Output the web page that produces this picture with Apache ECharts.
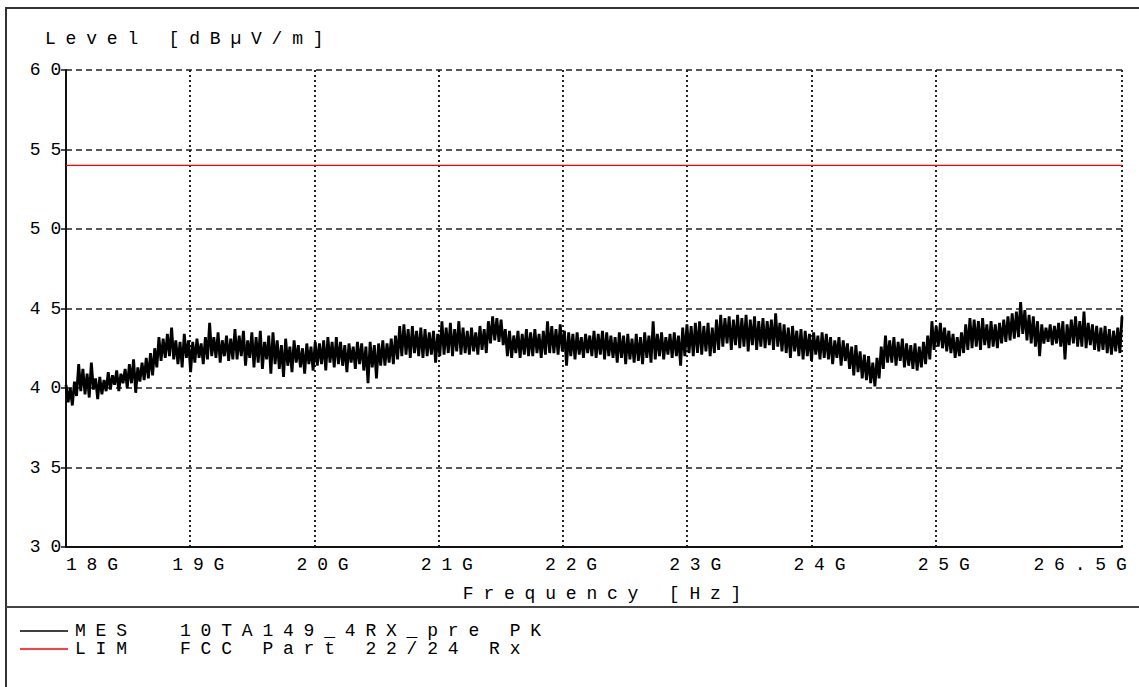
<!DOCTYPE html>
<html>
<head>
<meta charset="utf-8">
<style>
    html, body { margin: 0; padding: 0; background: #fff; }
    #chart { width: 1139px; height: 687px; }
    /* wide spaced plotter lettering */
    #chart text { letter-spacing: 9.8px; }
</style>
<script src="https://cdn.jsdelivr.net/npm/echarts@6/dist/echarts.min.js"></script>
</head>
<body>
<div id="chart"></div>
<script>
// sweep 18 GHz .. 26.5 GHz, 501 points
var freqStart = 18;
var freqStep = 0.017;
var freqTicks = [18, 19, 20, 21, 22, 23, 24, 25, 26.5];

var seriesNames = ['MES', 'LIM'];
var seriesDesc = ['10TA149_4RX_pre PK', 'FCC Part 22/24 Rx'];

// MES trace (dBµV/m)
var mesLevel = [
    40.2, 39.1, 40.0, 38.9, 40.4, 39.5, 41.5, 39.8, 41.2, 39.6,
    40.9, 39.4, 41.6, 39.9, 40.6, 39.3, 40.7, 39.6, 40.5, 39.8,
    41.0, 39.9, 40.8, 40.2, 41.1, 39.8, 40.9, 40.3, 41.2, 40.0,
    41.5, 40.3, 41.8, 39.7, 41.3, 40.4, 41.6, 40.5, 41.9, 40.6,
    42.2, 40.8, 42.5, 41.3, 43.2, 41.7, 43.1, 41.9, 43.4, 42.0,
    43.8, 41.8, 43.0, 41.5, 42.9, 41.3, 43.4, 41.9, 43.0, 41.0,
    42.9, 41.6, 43.1, 41.9, 42.8, 41.5, 43.2, 41.8, 44.1, 42.0,
    43.2, 41.9, 43.5, 41.6, 43.0, 42.0, 43.3, 41.7, 43.1, 41.8,
    43.7, 41.8, 43.3, 42.0, 43.6, 41.4, 43.0, 41.9, 43.5, 41.3,
    43.2, 41.6, 43.6, 41.2, 42.9, 41.8, 43.3, 40.9, 43.5, 41.5,
    43.0, 41.2, 42.7, 40.7, 43.1, 41.4, 42.6, 41.0, 43.0, 41.6,
    42.7, 41.3, 42.5, 40.9, 42.8, 41.5, 42.6, 41.1, 42.9, 41.4,
    42.8, 41.5, 43.0, 41.1, 43.2, 41.6, 42.9, 41.3, 43.2, 41.5,
    42.9, 41.4, 42.7, 41.0, 42.8, 41.6, 42.6, 41.2, 42.9, 41.5,
    42.8, 41.1, 42.6, 40.3, 42.9, 41.3, 42.7, 40.6, 42.8, 41.4,
    43.0, 41.4, 42.8, 41.6, 43.1, 41.5, 43.3, 41.8, 43.9, 42.0,
    44.0, 42.1, 43.7, 41.9, 43.9, 42.2, 43.6, 42.0, 43.8, 41.9,
    43.7, 42.0, 43.5, 42.1, 43.6, 41.6, 43.4, 42.0, 44.2, 42.1,
    43.8, 42.2, 44.1, 42.0, 43.7, 42.3, 44.2, 42.1, 43.8, 42.2,
    43.6, 42.1, 43.8, 42.3, 43.5, 42.1, 43.9, 42.4, 43.7, 42.2,
    44.2, 42.8, 44.5, 43.0, 44.4, 42.9, 44.3, 42.7, 43.7, 42.0,
    43.6, 41.9, 43.3, 42.2, 43.6, 41.9, 43.4, 42.1, 43.7, 42.0,
    43.5, 42.0, 43.7, 42.2, 43.4, 41.9, 43.6, 42.1, 44.2, 42.2,
    43.9, 42.2, 43.7, 42.1, 44.0, 42.3, 43.6, 41.4, 43.5, 42.0,
    43.4, 41.8, 43.5, 42.1, 43.2, 41.9, 43.4, 42.2, 43.3, 42.0,
    43.6, 41.9, 43.4, 42.1, 43.6, 41.8, 43.5, 42.0, 43.3, 41.9,
    43.2, 41.6, 43.5, 41.9, 43.3, 41.5, 43.4, 41.8, 43.1, 41.6,
    43.4, 41.7, 43.2, 41.5, 43.5, 41.9, 43.3, 41.6, 44.2, 41.8,
    43.4, 42.0, 43.5, 41.8, 43.2, 42.1, 43.4, 41.9, 43.5, 42.0,
    43.3, 41.4, 43.8, 42.0, 44.0, 42.2, 43.9, 42.0, 44.1, 42.2,
    44.2, 42.1, 43.9, 42.3, 44.1, 42.0, 43.8, 42.2, 44.3, 42.4,
    44.6, 42.6, 44.4, 42.8, 44.5, 42.4, 44.3, 42.7, 44.6, 42.5,
    44.4, 42.6, 44.6, 42.3, 44.3, 42.7, 44.5, 42.4, 44.2, 42.6,
    44.4, 42.5, 44.2, 42.7, 44.3, 42.4, 44.7, 42.6, 44.1, 42.3,
    44.0, 42.2, 43.8, 41.9, 43.9, 42.3, 43.6, 42.0, 43.7, 41.8,
    43.6, 42.0, 43.4, 41.7, 43.5, 42.1, 43.3, 41.8, 43.5, 41.9,
    43.4, 41.8, 43.2, 41.5, 43.0, 41.9, 43.2, 41.4, 43.0, 41.7,
    42.8, 41.2, 42.6, 40.8, 42.7, 41.0, 42.3, 40.6, 42.1, 40.5,
    42.0, 40.3, 41.6, 40.1, 41.9, 40.6, 42.6, 41.2, 43.3, 41.6,
    43.0, 41.6, 43.2, 41.4, 42.9, 41.7, 43.1, 41.3, 42.8, 41.4,
    42.7, 41.2, 42.8, 41.1, 42.6, 41.3, 42.9, 41.5, 43.3, 41.8,
    44.2, 42.4, 43.9, 42.6, 44.1, 42.5, 43.8, 42.3, 43.6, 42.2,
    43.4, 41.9, 43.2, 42.0, 43.5, 42.2, 44.0, 42.4, 44.4, 42.5,
    44.3, 42.6, 44.2, 42.4, 44.4, 42.7, 44.0, 42.5, 44.2, 42.6,
    44.0, 42.5, 44.1, 42.8, 44.3, 42.9, 44.5, 43.0, 44.7, 43.1,
    44.8, 43.2, 45.4, 43.4, 44.9, 43.0, 44.6, 42.8, 44.5, 42.6,
    44.2, 42.0, 44.0, 42.8, 43.8, 42.9, 44.0, 42.7, 43.9, 42.8,
    44.1, 42.6, 44.2, 41.8, 44.0, 42.7, 44.3, 42.8, 44.5, 42.6,
    44.2, 42.6, 44.8, 42.5, 44.1, 42.7, 44.0, 42.4, 43.9, 42.3,
    43.8, 42.4, 43.9, 42.2, 43.7, 42.1, 43.6, 42.3, 43.8, 42.2,
    44.5
];

// LIM line
var limFreq = [18, 26.5];
var limLevel = [54, 54];

var fontName = '"Liberation Mono", "DejaVu Sans Mono", monospace';
var fontSize = 18;

var mesData = [];
for (var i = 0; i < mesLevel.length; i++) {
    mesData.push([freqStart + i * freqStep, mesLevel[i]]);
}
var limData = [];
for (var j = 0; j < limFreq.length; j++) {
    limData.push([limFreq[j], limLevel[j]]);
}

var chart = echarts.init(document.getElementById('chart'), null, {renderer: 'svg'});

var option = {
    animation: false,
    backgroundColor: '#fff',
    textStyle: { fontFamily: fontName, color: '#000' },
    title: {
        text: 'Level [dBµV/m]',
        left: 40,
        top: 25,
        textStyle: { fontFamily: fontName, fontSize: fontSize, fontWeight: 'normal', color: '#000' }
    },
    grid: { left: 66, right: 17, top: 70, bottom: 140 },
    legend: {
        orient: 'vertical',
        left: 15,
        top: 617,
        itemGap: 0,
        itemWidth: 48,
        itemHeight: 1.5,
        icon: 'rect',
        selectedMode: false,
        data: seriesNames,
        formatter: function (name) {
            return '{n|' + name + '}{d|' + seriesDesc[seriesNames.indexOf(name)] + '}';
        },
        textStyle: {
            fontFamily: fontName, fontSize: fontSize, color: '#000', lineHeight: 15,
            rich: {
                n: { width: 105, padding: [0, 0, 0, 2], fontSize: fontSize, lineHeight: 15 },
                d: { fontSize: fontSize, lineHeight: 15 }
            }
        }
    },
    xAxis: {
        type: 'value',
        min: 18,
        max: 26.5,
        name: 'Frequency [Hz]',
        nameLocation: 'middle',
        nameGap: 38,
        nameTextStyle: { fontFamily: fontName, fontSize: fontSize, color: '#000', padding: [0, 0, 0, 26] },
        axisLine: { show: true, lineStyle: { color: '#111', width: 2 } },
        axisTick: { show: false, customValues: freqTicks },
        axisLabel: {
            customValues: freqTicks,
            margin: 9,
            alignMinLabel: 'left',
            fontSize: fontSize,
            color: '#000',
            formatter: function (v) {
                if (v === 18) return '{first|18G}';
                if (v === 26.5) return '{last|26.5G}';
                return '{v|' + v + 'G}';
            },
            rich: {
                first: { fontSize: fontSize },
                v: { fontSize: fontSize, padding: [0, 0, 0, 26] },
                last: { fontSize: fontSize, padding: [0, 74, 0, 0] }
            }
        },
        splitLine: { show: true, lineStyle: { color: '#222', width: 2, type: [2, 3] } }
    },
    yAxis: {
        type: 'value',
        min: 30,
        max: 60,
        interval: 5,
        axisLine: { show: true, lineStyle: { color: '#111', width: 2 } },
        axisTick: { show: true, length: 5, lineStyle: { color: '#111', width: 1.5 } },
        axisLabel: {
            margin: -5,
            fontSize: fontSize,
            color: '#000'
        },
        splitLine: { show: true, lineStyle: { color: '#222', width: 1.5, type: [6, 4] } }
    },
    series: [
        {
            name: 'MES',
            type: 'line',
            data: mesData,
            showSymbol: false,
            color: '#000',
            lineStyle: { color: '#000', width: 2.8 },
            z: 3
        },
        {
            name: 'LIM',
            type: 'line',
            data: limData,
            showSymbol: false,
            color: '#ff0000',
            lineStyle: { color: '#ff0000', width: 1.3 },
            z: 2
        }
    ],
    // outer frame and legend divider
    graphic: [
        { type: 'polyline', shape: { points: [[6, 687], [6, 8], [1139, 8]] }, style: { stroke: '#333', lineWidth: 2, fill: null } },
        { type: 'line', shape: { x1: 6, y1: 607, x2: 1139, y2: 607 }, style: { stroke: '#444', lineWidth: 2 } }
    ]
};

chart.setOption(option);
</script>
</body>
</html>
